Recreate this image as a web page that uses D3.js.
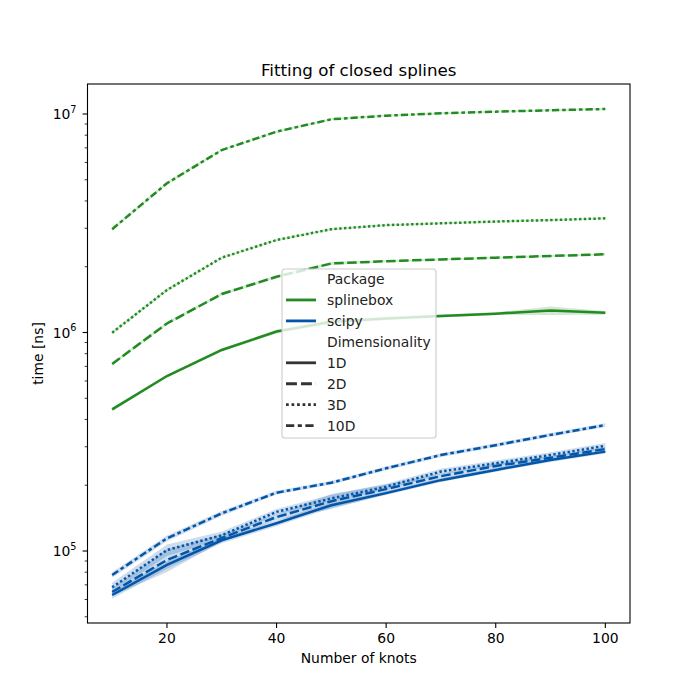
<!DOCTYPE html>
<meta charset="utf-8">
<html>
<head>
  <title>Fitting of closed splines</title>
  <style>
    body { margin: 0; background: #fff; }
    svg text { font-family: "DejaVu Sans", sans-serif; }
  </style>
</head>
<body>
  <svg id="chart" width="700" height="700"></svg>

  <script src="https://cdn.jsdelivr.net/npm/d3@7"></script>
  <script>

    // knots on the x axis
    var knots = [10, 20, 30, 40, 50, 60, 70, 80, 90, 100];

    // timings in ns
    var splineboxT1 = [4.45e5, 6.32e5, 8.32e5, 1.01e6, 1.12e6, 1.16e6, 1.19e6, 1.22e6, 1.26e6, 1.23e6];
    var splineboxT2 = [7.18e5, 1.10e6, 1.50e6, 1.80e6, 2.07e6, 2.12e6, 2.16e6, 2.20e6, 2.24e6, 2.28e6];
    var splineboxT3 = [9.98e5, 1.565e6, 2.20e6, 2.65e6, 2.97e6, 3.10e6, 3.16e6, 3.22e6, 3.27e6, 3.33e6];
    var splineboxT10 = [2.97e6, 4.82e6, 6.84e6, 8.30e6, 9.46e6, 9.83e6, 1.007e7, 1.025e7, 1.04e7, 1.054e7];

    var scipyT1 = [6.29e4, 8.63e4, 1.12e5, 1.34e5, 1.62e5, 1.84e5, 2.11e5, 2.35e5, 2.61e5, 2.85e5];
    var scipyT2 = [6.49e4, 9.10e4, 1.147e5, 1.43e5, 1.69e5, 1.92e5, 2.20e5, 2.45e5, 2.67e5, 2.93e5];
    var scipyT3 = [6.82e4, 1.01e5, 1.18e5, 1.51e5, 1.74e5, 1.97e5, 2.31e5, 2.52e5, 2.75e5, 3.03e5];
    var scipyT10 = [7.77e4, 1.143e5, 1.488e5, 1.849e5, 2.054e5, 2.39e5, 2.75e5, 3.05e5, 3.40e5, 3.77e5];

    // relative half width of the confidence band at each knot count
    var splineboxCi1 = [0.02, 0.015, 0.015, 0.02, 0.02, 0.02, 0.015, 0.015, 0.045, 0.02];
    var splineboxCi2 = [0.015, 0.015, 0.015, 0.015, 0.015, 0.01, 0.01, 0.01, 0.01, 0.01];
    var splineboxCi3 = [0.015, 0.015, 0.01, 0.01, 0.01, 0.01, 0.01, 0.01, 0.01, 0.01];
    var splineboxCi10 = [0.015, 0.015, 0.01, 0.01, 0.01, 0.01, 0.01, 0.01, 0.01, 0.01];
    var scipyCi1 = [0.04, 0.04, 0.03, 0.03, 0.03, 0.02, 0.02, 0.02, 0.02, 0.02];
    var scipyCi2 = [0.04, 0.12, 0.04, 0.03, 0.08, 0.05, 0.03, 0.03, 0.02, 0.02];
    var scipyCi3 = [0.05, 0.06, 0.04, 0.03, 0.04, 0.03, 0.03, 0.03, 0.03, 0.03];
    var scipyCi10 = [0.03, 0.03, 0.025, 0.02, 0.02, 0.02, 0.02, 0.02, 0.02, 0.02];

    var packages = ["splinebox", "scipy"];
    var dims = ["1D", "2D", "3D", "10D"];

    var yTicks = [1e5, 1e6, 1e7];
    var xTicks = [20, 40, 60, 80, 100];

    var colors = { splinebox: "#228b22", scipy: "#0355a8" };
    var dashes = { "1D": null, "2D": "9.5,3.5", "3D": "2.4,2.4", "10D": "7.2,3,3.6,3" };

    var series = [
      { pkg: "splinebox", dim: "1D", t: splineboxT1, ci: splineboxCi1 },
      { pkg: "splinebox", dim: "2D", t: splineboxT2, ci: splineboxCi2 },
      { pkg: "splinebox", dim: "3D", t: splineboxT3, ci: splineboxCi3 },
      { pkg: "splinebox", dim: "10D", t: splineboxT10, ci: splineboxCi10 },
      { pkg: "scipy", dim: "1D", t: scipyT1, ci: scipyCi1 },
      { pkg: "scipy", dim: "2D", t: scipyT2, ci: scipyCi2 },
      { pkg: "scipy", dim: "3D", t: scipyT3, ci: scipyCi3 },
      { pkg: "scipy", dim: "10D", t: scipyT10, ci: scipyCi10 }
    ];

    var svg = d3.select("#chart");
    var plotL = 87.5, plotR = 630, plotT = 84, plotB = 623;

    var x = d3.scaleLinear().domain([5.5, 104.5]).range([plotL, plotR]);
    var y = d3.scaleLog().domain([Math.pow(10, 4.6705), Math.pow(10, 7.1373)]).range([plotB, plotT]);

    var plot = svg.append("g");

    // confidence bands
    var area = d3.area()
      .x(function (d) { return x(d.k) })
      .y0(function (d) { return y(d.v * (1 - d.c)) })
      .y1(function (d) { return y(d.v * (1 + d.c)) });

    var line = d3.line()
      .x(function (d) { return x(d.k) })
      .y(function (d) { return y(d.v) });

    packages.forEach(function (p) {
      series.filter(function (s) { return s.pkg == p }).forEach(function (s) {
        var pts = knots.map(function (k, i) { return { k: k, v: s.t[i], c: s.ci[i] } });
        plot.append("path")
          .attr("d", area(pts))
          .attr("fill", colors[p])
          .attr("fill-opacity", 0.2)
          .attr("stroke", "none");
        plot.append("path")
          .attr("d", line(pts))
          .attr("fill", "none")
          .attr("stroke", colors[p])
          .attr("stroke-width", 2.5)
          .attr("stroke-dasharray", dashes[s.dim]);
      });
    });

    // axes frame
    svg.append("rect")
      .attr("x", plotL).attr("y", plotT)
      .attr("width", plotR - plotL).attr("height", plotB - plotT)
      .attr("fill", "none").attr("stroke", "black").attr("stroke-width", 1.1);

    // x ticks
    var xg = svg.append("g");
    xTicks.forEach(function (t) {
      xg.append("line")
        .attr("x1", x(t)).attr("x2", x(t))
        .attr("y1", plotB).attr("y2", plotB + 4.9)
        .attr("stroke", "black").attr("stroke-width", 1.1);
      xg.append("text")
        .attr("x", x(t)).attr("y", plotB + 20)
        .attr("text-anchor", "middle")
        .style("font-size", "13.9px")
        .text(t);
    });

    // y ticks, major and minor
    var yg = svg.append("g");
    var lo = y.domain()[0], hi = y.domain()[1];
    for (var e = 4; e <= 7; e++) {
      for (var m = 2; m <= 9; m++) {
        var v = m * Math.pow(10, e);
        if (v < lo || v > hi) continue;
        yg.append("line")
          .attr("x1", plotL).attr("x2", plotL - 2.8)
          .attr("y1", y(v)).attr("y2", y(v))
          .attr("stroke", "black").attr("stroke-width", 0.8);
      }
    }
    yTicks.forEach(function (t) {
      var exp = Math.round(Math.log10(t));
      yg.append("line")
        .attr("x1", plotL).attr("x2", plotL - 4.9)
        .attr("y1", y(t)).attr("y2", y(t))
        .attr("stroke", "black").attr("stroke-width", 1.1);
      var txt = yg.append("text")
        .attr("x", plotL - 11).attr("y", y(t) + 5)
        .attr("text-anchor", "end")
        .style("font-size", "13.9px");
      txt.append("tspan").text("10");
      txt.append("tspan")
        .attr("dy", -6.5)
        .style("font-size", "9.7px")
        .text(exp);
    });

    // labels and title
    svg.append("text")
      .attr("x", (plotL + plotR) / 2).attr("y", 663)
      .attr("text-anchor", "middle")
      .style("font-size", "13.9px")
      .text("Number of knots");

    svg.append("text")
      .attr("transform", "translate(43," + ((plotT + plotB) / 2) + ") rotate(-90)")
      .attr("text-anchor", "middle")
      .style("font-size", "13.9px")
      .text("time [ns]");

    svg.append("text")
      .attr("x", (plotL + plotR) / 2).attr("y", 76)
      .attr("text-anchor", "middle")
      .style("font-size", "16.7px")
      .text("Fitting of closed splines");

    // legend
    var lg = svg.append("g").attr("transform", "translate(282,269)");
    lg.append("rect")
      .attr("width", 154).attr("height", 169)
      .attr("rx", 3).attr("ry", 3)
      .attr("fill", "white").attr("fill-opacity", 0.8)
      .attr("stroke", "#cccccc").attr("stroke-width", 1.1);

    var entries = [{ label: "Package" }]
      .concat(packages.map(function (p) { return { label: p, color: colors[p] } }))
      .concat([{ label: "Dimensionality" }])
      .concat(dims.map(function (d) { return { label: d, color: "#333333", dash: dashes[d] } }));

    entries.forEach(function (en, i) {
      var cy = 10 + i * 20.95;
      if (en.color) {
        lg.append("line")
          .attr("x1", 4).attr("x2", 34)
          .attr("y1", cy).attr("y2", cy)
          .attr("stroke", en.color)
          .attr("stroke-width", 2.8)
          .attr("stroke-dasharray", en.dash ? en.dash.split(",").map(function (d) { return d * 1.15 }).join(",") : null);
      }
      lg.append("text")
        .attr("x", 45).attr("y", cy + 5)
        .style("font-size", "13.9px")
        .attr("fill", "#222")
        .text(en.label);
    });

  </script>
</body>
</html>
